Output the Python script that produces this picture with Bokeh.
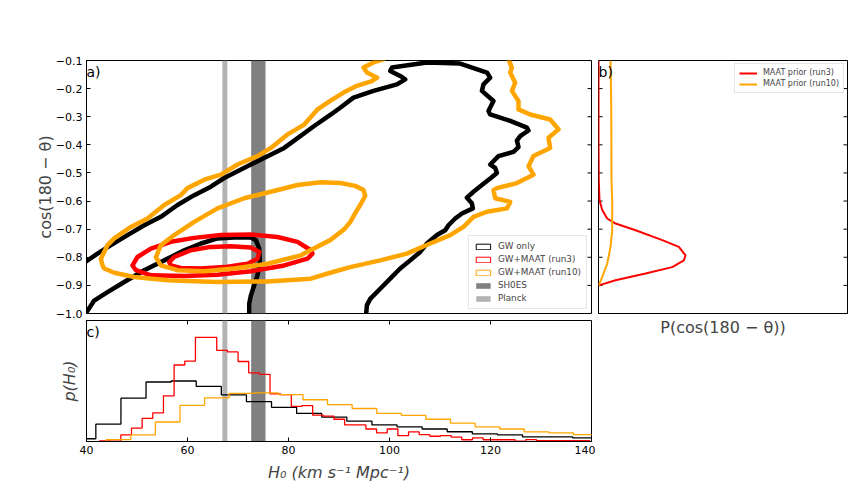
import numpy as np
from bokeh.plotting import figure
from bokeh.models import Range1d, FixedTicker, BoxAnnotation, Legend, LegendItem, Label
from bokeh.layouts import row, column
from bokeh.embed import file_html
from bokeh.resources import INLINE

FONT = "DejaVu Sans"

# ---------------- data ----------------
H0_START, H0_END = 40, 140
COS_START, COS_END = -1.0, -0.1
HIST_TOP = 0.062
PRIOR_START, PRIOR_END = 0, 18

yticks = [-1.0, -0.9, -0.8, -0.7, -0.6, -0.5, -0.4, -0.3, -0.2, -0.1]
ytick_labels = ["−1.0", "−0.9", "−0.8", "−0.7", "−0.6", "−0.5", "−0.4", "−0.3", "−0.2", "−0.1"]
xticks = [40, 60, 80, 100, 120, 140]
xtick_labels = ["40", "60", "80", "100", "120", "140"]

sh0es_h0, sh0es_err = 74.03, 1.42
planck_h0, planck_err = 67.4, 0.5

# GW-only contours
gw_outer_h0 = [40.0, 42.18, 44.83, 48.12, 51.43, 54.73, 58.02, 61.33, 64.63, 67.27, 72.55, 79.15, 85.09,
               88.40, 90.24, 92.87, 96.83, 101.47, 103.11, 102.12, 100.14, 100.48, 107.41, 114.0, 119.29,
               119.94, 118.61, 118.30, 120.59, 119.60, 119.94, 123.90, 127.21, 127.52, 125.88, 125.23,
               125.54, 124.55, 121.58, 119.94, 120.93, 121.27, 119.94, 118.30, 116.63, 115.33, 116.32,
               116.51, 114.34, 113.01, 111.68, 111.03, 109.39, 107.41, 106.08, 104.10, 102.12, 100.14,
               98.16, 96.18, 95.52, 95.39, 95.19]
gw_outer_cos = [-0.814, -0.787, -0.757, -0.721, -0.686, -0.656, -0.614, -0.579, -0.549, -0.518, -0.470,
                -0.411, -0.333, -0.292, -0.268, -0.232, -0.208, -0.185, -0.167, -0.155, -0.137, -0.125,
                -0.107, -0.111, -0.143, -0.161, -0.185, -0.208, -0.244, -0.280, -0.292, -0.315, -0.339,
                -0.349, -0.369, -0.385, -0.408, -0.425, -0.440, -0.470, -0.482, -0.500, -0.520, -0.543,
                -0.567, -0.588, -0.608, -0.626, -0.644, -0.662, -0.686, -0.704, -0.721, -0.751, -0.781,
                -0.811, -0.840, -0.876, -0.912, -0.948, -0.971, -1.000, -1.025]
gw_inner_h0 = [39.5, 40.0, 41.52, 44.16, 47.47, 51.43, 55.39, 59.35, 62.65, 65.94, 69.25, 72.55, 73.54,
               74.20, 74.34, 73.86, 73.21, 72.55, 72.22, 72.22]
gw_inner_cos = [-1.02, -0.996, -0.954, -0.924, -0.888, -0.846, -0.811, -0.775, -0.751, -0.733, -0.730,
                -0.730, -0.739, -0.769, -0.817, -0.864, -0.900, -0.936, -0.965, -1.025]

# GW+MAAT (run3) contours
run3_outer_h0 = [49.11, 50.10, 52.75, 56.71, 61.33, 66.61, 72.55, 77.82, 81.78, 84.44, 84.75, 83.76,
                 79.15, 72.55, 65.94, 59.35, 52.75, 49.78, 49.11]
run3_outer_cos = [-0.829, -0.799, -0.769, -0.745, -0.731, -0.721, -0.719, -0.728, -0.745, -0.775, -0.787,
                  -0.805, -0.829, -0.850, -0.862, -0.867, -0.864, -0.846, -0.829]
run3_inner_h0 = [56.38, 57.37, 60.67, 64.63, 68.59, 72.55, 74.20, 73.86, 71.88, 67.27, 62.65, 58.69,
                 56.71, 56.38]
run3_inner_cos = [-0.817, -0.799, -0.775, -0.763, -0.761, -0.765, -0.781, -0.805, -0.823, -0.835, -0.840,
                  -0.838, -0.829, -0.817]

# GW+MAAT (run10) contours
run10_outer_h0 = [123.56, 123.56, 124.24, 123.90, 124.89, 124.24, 125.54, 125.54, 127.86, 131.82, 133.47,
                  131.49, 131.82, 128.51, 127.52, 128.51, 125.23, 121.27, 120.59, 120.93, 123.90, 123.25,
                  119.29, 116.63, 114.65, 112.02, 108.06, 103.45, 98.16, 92.22, 88.26, 84.44, 75.84,
                  65.94, 56.04, 49.45, 45.49, 43.50, 43.17, 42.85, 44.16, 45.49, 48.79, 52.08, 55.39,
                  58.69, 60.0, 63.31, 66.61, 69.90, 73.86, 76.51, 79.80, 83.11, 85.74, 88.40, 90.89,
                  93.54, 96.51, 97.56, 95.52, 94.85, 96.83, 98.81, 100.14]
run10_outer_cos = [-0.079, -0.095, -0.125, -0.143, -0.179, -0.208, -0.244, -0.274, -0.292, -0.310, -0.345,
                   -0.375, -0.411, -0.440, -0.476, -0.506, -0.536, -0.554, -0.561, -0.590, -0.603, -0.626,
                   -0.638, -0.656, -0.692, -0.721, -0.751, -0.787, -0.811, -0.835, -0.855, -0.876, -0.886,
                   -0.888, -0.882, -0.870, -0.855, -0.840, -0.829, -0.805, -0.757, -0.733, -0.692, -0.662,
                   -0.614, -0.579, -0.554, -0.524, -0.506, -0.470, -0.440, -0.411, -0.363, -0.328, -0.274,
                   -0.242, -0.214, -0.190, -0.173, -0.161, -0.143, -0.125, -0.107, -0.095, -0.079]
run10_inner_h0 = [53.74, 54.73, 57.37, 61.33, 65.94, 71.23, 76.51, 81.78, 86.42, 90.24, 93.21, 94.85,
                  95.19, 94.20, 93.21, 92.22, 91.03, 88.26, 84.30, 82.46, 75.84, 69.25, 63.31, 58.02,
                  54.73, 53.74]
run10_inner_cos = [-0.800, -0.757, -0.721, -0.674, -0.626, -0.590, -0.567, -0.543, -0.533, -0.536, -0.546,
                   -0.561, -0.582, -0.614, -0.643, -0.675, -0.700, -0.739, -0.775, -0.793, -0.823, -0.840,
                   -0.850, -0.846, -0.829, -0.800]

# MAAT priors on cos(180 - theta)
prior_run3_cos = [-0.10, -0.40, -0.525, -0.596, -0.632, -0.662, -0.680, -0.704, -0.739, -0.763, -0.793,
                  -0.811, -0.835, -0.858, -0.882, -0.900]
prior_run3_p = [0.0, 0.0, 0.02, 0.07, 0.27, 0.63, 1.23, 2.68, 4.61, 5.81, 6.29, 6.17, 5.33, 3.40, 1.23, 0.02]
prior_run10_cos = [-0.10, -0.257, -0.525, -0.596, -0.704, -0.763, -0.823, -0.870, -0.900]
prior_run10_p = [0.87, 0.92, 0.94, 0.99, 0.99, 0.87, 0.63, 0.27, 0.02]

# H0 posteriors (histograms)
hist_gw_start, hist_gw_width = 36.88, 4.97
hist_gw = [0.0014, 0.0089, 0.0222, 0.0305, 0.0310, 0.0282, 0.0239, 0.0204, 0.0175, 0.0144, 0.0125,
           0.0104, 0.0085, 0.0075, 0.0064, 0.0050, 0.0039, 0.0034, 0.0024, 0.0024, 0.0019]
hist_run3_start, hist_run3_width = 42.58, 2.11
hist_run3 = [0.0003, 0.0002, 0.0034, 0.0069, 0.0119, 0.0147, 0.0234, 0.0392, 0.0412, 0.0534, 0.0534,
             0.0467, 0.0459, 0.0410, 0.0352, 0.0344, 0.0244, 0.0240, 0.0180, 0.0184, 0.0135, 0.0130,
             0.0114, 0.0085, 0.0085, 0.0064, 0.0044, 0.0064, 0.0030, 0.0049, 0.0035, 0.0027, 0.0030,
             0.0022, 0.0009, 0.0019, 0.0009, 0.0009, 0.0009, 0.0002, 0.0010, 0.0004, 0.0004, 0.0004,
             0.0004, 0.0004]
hist_run10_start, hist_run10_width = 43.90, 4.87
hist_run10 = [0.0010, 0.0034, 0.0100, 0.0185, 0.0224, 0.0247, 0.0249, 0.0240, 0.0214, 0.0189, 0.0169,
              0.0144, 0.0134, 0.0114, 0.0094, 0.0075, 0.0064, 0.0049, 0.0044, 0.0035]

BLACK, RED, ORANGE = "#000000", "#ff0000", "#ffa500"
SH0ES_COLOR, PLANCK_COLOR = "#808080", "#b3b3b3"
TICK_LEN = 4


def step_xy(start, width, vals):
    xs, ys = [start], [0.0]
    for i, v in enumerate(vals):
        xs += [start + i * width, start + (i + 1) * width]
        ys += [v, v]
    xs.append(start + len(vals) * width)
    ys.append(0.0)
    return xs, ys


def style_axis(ax, ticks, labels=None):
    ax.ticker = FixedTicker(ticks=ticks)
    ax.major_tick_in = TICK_LEN
    ax.major_tick_out = 0
    ax.minor_tick_in = 0
    ax.minor_tick_out = 0
    ax.axis_line_color = "black"
    ax.major_tick_line_color = "black"
    ax.major_label_text_font = FONT
    ax.major_label_text_font_size = "11px"
    ax.major_label_text_color = "black"
    ax.major_label_standoff = 4
    if labels is not None:
        ax.major_label_overrides = {t: l for t, l in zip(ticks, labels)}


def label_only_axis(ax, text, style, standoff):
    ax.ticker = FixedTicker(ticks=[])
    ax.major_tick_in = 0
    ax.major_tick_out = 0
    ax.minor_tick_in = 0
    ax.minor_tick_out = 0
    ax.major_label_standoff = 0
    ax.axis_line_color = "black"
    ax.axis_label = text
    ax.axis_label_text_font = FONT
    ax.axis_label_text_font_size = "16px"
    ax.axis_label_text_font_style = style
    ax.axis_label_standoff = standoff


def inner_ticks(p, xs, ys, angle):
    # inward tick marks drawn on a frame edge without labels
    p.ray(x=xs, y=ys, length=TICK_LEN, length_units="screen", angle=angle,
          line_color="black", line_width=1)


def add_bands(p):
    p.add_layout(BoxAnnotation(left=sh0es_h0 - sh0es_err, right=sh0es_h0 + sh0es_err,
                               fill_color=SH0ES_COLOR, fill_alpha=1.0, line_alpha=0, level="underlay"))
    p.add_layout(BoxAnnotation(left=planck_h0 - planck_err, right=planck_h0 + planck_err,
                               fill_color=PLANCK_COLOR, fill_alpha=1.0, line_alpha=0, level="underlay"))


def panel_label(p, x, y, text):
    p.add_layout(Label(x=x, y=y, text=text, x_offset=0, y_offset=-3, text_baseline="top",
                       text_font=FONT, text_font_size="14px", text_color="black"))


def base_fig(**kw):
    p = figure(output_backend="svg", toolbar_location=None, **kw)
    p.grid.visible = False
    p.outline_line_color = "black"
    p.outline_line_alpha = 1
    return p


# ---------------- main panel (a) ----------------
p_main = base_fig(width=595, height=320, x_range=Range1d(H0_START, H0_END),
                  y_range=Range1d(COS_START, COS_END),
                  min_border_left=86, min_border_right=4, min_border_top=60, min_border_bottom=7)
p_main.xaxis.visible = False
style_axis(p_main.yaxis[0], yticks, ytick_labels)
p_main.yaxis[0].axis_label = "cos(180 − θ)"
p_main.yaxis[0].axis_label_text_font = FONT
p_main.yaxis[0].axis_label_text_font_size = "16px"
p_main.yaxis[0].axis_label_text_font_style = "normal"
p_main.yaxis[0].axis_label_standoff = -2
inner_ticks(p_main, [H0_END] * len(yticks), yticks, np.pi)
add_bands(p_main)

lw = 4.5
for hx, cy, col in [(gw_outer_h0, gw_outer_cos, BLACK), (gw_inner_h0, gw_inner_cos, BLACK),
                    (run3_outer_h0, run3_outer_cos, RED), (run3_inner_h0, run3_inner_cos, RED),
                    (run10_outer_h0, run10_outer_cos, ORANGE), (run10_inner_h0, run10_inner_cos, ORANGE)]:
    p_main.line(hx, cy, line_color=col, line_width=lw, line_join="round", line_cap="round")

# legend proxies (one NaN row each so that nothing shows in the plot)
nan = [np.nan]
r_gw = p_main.quad(left=nan, right=nan, top=nan, bottom=nan, fill_color="white", line_color=BLACK, line_width=1)
r_r3 = p_main.quad(left=nan, right=nan, top=nan, bottom=nan, fill_color="white", line_color=RED, line_width=1)
r_r10 = p_main.quad(left=nan, right=nan, top=nan, bottom=nan, fill_color="white", line_color=ORANGE, line_width=1)
r_sh = p_main.quad(left=nan, right=nan, top=nan, bottom=nan, fill_color=SH0ES_COLOR, line_alpha=0)
r_pl = p_main.quad(left=nan, right=nan, top=nan, bottom=nan, fill_color=PLANCK_COLOR, line_alpha=0)
leg = Legend(items=[LegendItem(label="GW only", renderers=[r_gw]),
                    LegendItem(label="GW+MAAT (run3)", renderers=[r_r3]),
                    LegendItem(label="GW+MAAT (run10)", renderers=[r_r10]),
                    LegendItem(label="SH0ES", renderers=[r_sh]),
                    LegendItem(label="Planck", renderers=[r_pl])],
             location="bottom_right", margin=4, padding=5, spacing=3, glyph_width=18, glyph_height=7,
             label_height=10, label_standoff=6, label_text_font=FONT, label_text_font_size="8.8px",
             border_line_color="#cccccc", border_line_width=1, background_fill_alpha=0.85)
p_main.add_layout(leg)
panel_label(p_main, H0_START, COS_END, "a)")

# ---------------- right panel (b) ----------------
p_right = base_fig(width=261, height=353, x_range=Range1d(PRIOR_START, PRIOR_END),
                   y_range=Range1d(COS_START, COS_END),
                   min_border_left=3, min_border_right=9, min_border_top=60, min_border_bottom=40)
p_right.yaxis.visible = False
label_only_axis(p_right.xaxis[0], "P(cos(180 − θ))", "normal", 4)
inner_ticks(p_right, [PRIOR_START] * len(yticks), yticks, 0.0)
inner_ticks(p_right, [PRIOR_END] * len(yticks), yticks, np.pi)
p_right.line(prior_run3_p, prior_run3_cos, line_color=RED, line_width=2, legend_label="MAAT prior (run3)")
p_right.line(prior_run10_p, prior_run10_cos, line_color=ORANGE, line_width=2, legend_label="MAAT prior (run10)")
lg = p_right.legend[0]
lg.location = "top_right"
lg.margin = 3
lg.padding = 4
lg.spacing = 2
lg.glyph_width = 18
lg.glyph_height = 8
lg.label_height = 9
lg.label_standoff = 6
lg.label_text_font = FONT
lg.label_text_font_size = "8px"
lg.border_line_color = "#cccccc"
lg.background_fill_alpha = 0.85
panel_label(p_right, PRIOR_START, COS_END, "b)")

# ---------------- histogram panel (c) ----------------
p_hist = base_fig(width=595, height=176, x_range=Range1d(H0_START, H0_END), y_range=Range1d(0, HIST_TOP),
                  min_border_left=86, min_border_right=4, min_border_top=0, min_border_bottom=55)
style_axis(p_hist.xaxis[0], xticks, xtick_labels)
p_hist.xaxis[0].axis_label = "H₀ (km s⁻¹ Mpc⁻¹)"
p_hist.xaxis[0].axis_label_text_font = FONT
p_hist.xaxis[0].axis_label_text_font_size = "16px"
p_hist.xaxis[0].axis_label_text_font_style = "italic"
p_hist.xaxis[0].axis_label_standoff = 6
label_only_axis(p_hist.yaxis[0], "p(H₀)", "italic", 8)
inner_ticks(p_hist, xticks, [HIST_TOP] * len(xticks), -np.pi / 2)
add_bands(p_hist)
for start, width, vals, col in [(hist_gw_start, hist_gw_width, hist_gw, BLACK),
                                (hist_run3_start, hist_run3_width, hist_run3, RED),
                                (hist_run10_start, hist_run10_width, hist_run10, ORANGE)]:
    xs, ys = step_xy(start, width, vals)
    p_hist.line(xs, ys, line_color=col, line_width=1.3)
panel_label(p_hist, H0_START, HIST_TOP, "c)")

layout = row(column(p_main, p_hist), p_right)
open("out.html", "w").write(file_html(layout, INLINE))
